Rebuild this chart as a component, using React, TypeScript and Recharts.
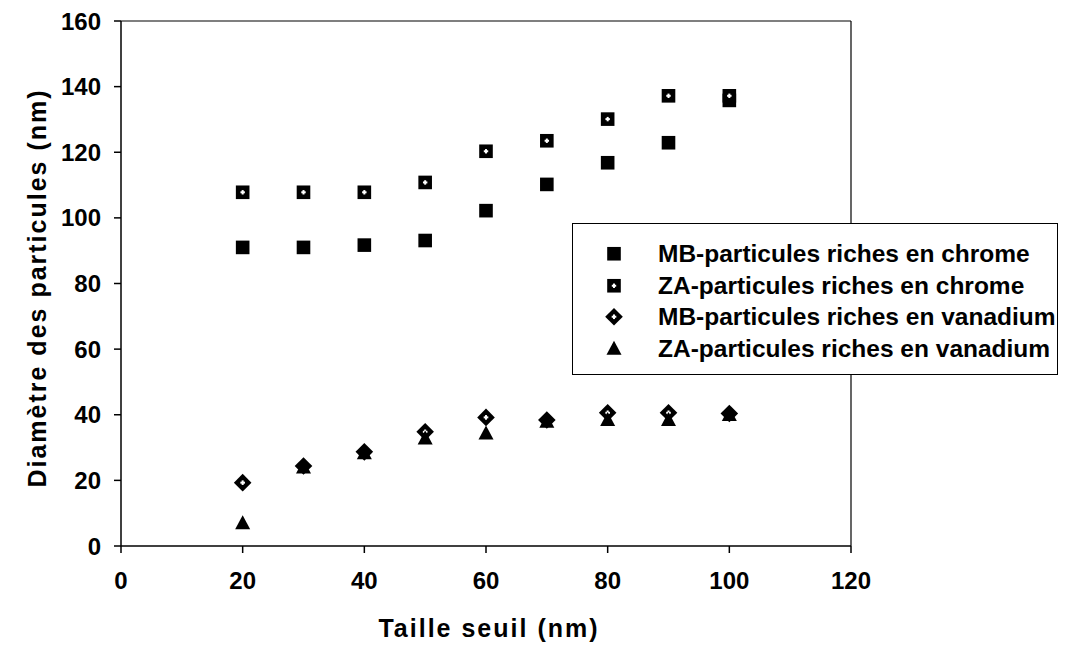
import React from 'react';
import { ScatterChart, Scatter, XAxis, YAxis, Legend, ReferenceLine, Label } from 'recharts';

const seuils = [20, 30, 40, 50, 60, 70, 80, 90, 100];
const mbChrome = [91.0, 91.0, 91.7, 93.1, 102.2, 110.2, 116.8, 122.9, 135.8];
const zaChrome = [107.8, 107.8, 107.8, 110.8, 120.3, 123.5, 130.1, 137.2, 137.2];
const mbVanadium = [19.3, 24.4, 28.7, 34.8, 39.2, 38.4, 40.6, 40.6, 40.4];
const zaVanadium = [6.9, 23.9, 28.3, 32.8, 34.3, 37.9, 38.4, 38.4, 39.9];

const xTicks = [0, 20, 40, 60, 80, 100, 120];
const yTicks = [0, 20, 40, 60, 80, 100, 120, 140, 160];

const seriesNames = [
  'MB-particules riches en chrome',
  'ZA-particules riches en chrome',
  'MB-particules riches en vanadium',
  'ZA-particules riches en vanadium',
];

const toPoints = (ys: number[]) => seuils.map((x, i) => ({ x, y: ys[i] }));

const FONT = '"Liberation Sans", Arial, Helvetica, sans-serif';

const SquareSolid = (props: any) => {
  const { cx, cy } = props;
  if (cx == null || cy == null) return null;
  return <rect x={cx - 6.8} y={cy - 6.8} width={13.6} height={13.6} fill="#000" />;
};

const SquareDot = (props: any) => {
  const { cx, cy } = props;
  if (cx == null || cy == null) return null;
  return (
    <g>
      <rect x={cx - 6.8} y={cy - 6.8} width={13.6} height={13.6} fill="#000" />
      <rect x={cx - 2.2} y={cy - 1} width={4.4} height={2} fill="#fff" />
      <rect x={cx - 1} y={cy - 2.2} width={2} height={4.4} fill="#fff" />
    </g>
  );
};

const DiamondDot = (props: any) => {
  const { cx, cy } = props;
  if (cx == null || cy == null) return null;
  const r = 8.8;
  return (
    <g>
      <polygon points={`${cx},${cy - r} ${cx + r},${cy} ${cx},${cy + r} ${cx - r},${cy}`} fill="#000" />
      <rect x={cx - 2.3} y={cy - 1} width={4.6} height={2} fill="#fff" />
      <rect x={cx - 1} y={cy - 2.3} width={2} height={4.6} fill="#fff" />
    </g>
  );
};

const Triangle = (props: any) => {
  const { cx, cy } = props;
  if (cx == null || cy == null) return null;
  return (
    <polygon points={`${cx},${cy - 8} ${cx + 7.5},${cy + 6} ${cx - 7.5},${cy + 6}`} fill="#000" />
  );
};

const legendShapes = [SquareSolid, SquareDot, DiamondDot, Triangle];

const LegendBox = () => (
  <div
    style={{
      width: 486,
      height: 152,
      boxSizing: 'border-box',
      border: '1.5px solid #000',
      background: '#fff',
      paddingTop: 14,
      fontFamily: FONT,
      fontWeight: 'bold',
      fontSize: 24.5,
      color: '#000',
    }}
  >
    {seriesNames.map((name, i) => {
      const Shape = legendShapes[i];
      return (
        <div key={name} style={{ height: 31.5, display: 'flex', alignItems: 'center', whiteSpace: 'nowrap' }}>
          <svg width={85} height={31.5} style={{ flex: '0 0 auto' }}>
            <Shape cx={41} cy={15.75} />
          </svg>
          <span style={{ lineHeight: '31.5px' }}>{name}</span>
        </div>
      );
    })}
  </div>
);

const XTitle = (props: any) => {
  const vb = props.viewBox || {};
  return (
    <text
      x={vb.x + vb.width / 2 + 3}
      y={vb.y + 91}
      textAnchor="middle"
      fontFamily={FONT}
      fontWeight="bold"
      fontSize={25}
      letterSpacing={2}
      fill="#000"
    >
      Taille seuil (nm)
    </text>
  );
};

const YTitle = (props: any) => {
  const vb = props.viewBox || {};
  const x = vb.x - 13;
  const y = vb.y + vb.height / 2 + 4.5;
  return (
    <text
      x={x}
      y={y}
      transform={`rotate(-90, ${x}, ${y})`}
      textAnchor="middle"
      dominantBaseline="hanging"
      fontFamily={FONT}
      fontWeight="bold"
      fontSize={25}
      letterSpacing={2}
      fill="#000"
    >
      Diamètre des particules (nm)
    </text>
  );
};

const tickStyle = { fontFamily: FONT, fontWeight: 'bold' as const, fontSize: 24, fill: '#000' };

export default function App() {
  return (
    <div style={{ width: 1059, height: 638, background: '#fff' }}>
      <ScatterChart width={1059} height={638} margin={{ top: 13, right: 216, bottom: 40, left: 33 }}>
        <XAxis
          type="number"
          dataKey="x"
          domain={[0, 120]}
          ticks={xTicks}
          interval={0}
          height={60}
          tickSize={7}
          tickMargin={19}
          axisLine={{ stroke: '#000', strokeWidth: 1.5 }}
          tickLine={{ stroke: '#000', strokeWidth: 1.5 }}
          tick={tickStyle}
          allowDataOverflow
        >
          <Label content={<XTitle />} />
        </XAxis>
        <YAxis
          type="number"
          dataKey="y"
          domain={[0, 160]}
          ticks={yTicks}
          interval={0}
          width={80}
          tickSize={7}
          tickMargin={13}
          axisLine={{ stroke: '#000', strokeWidth: 1.5 }}
          tickLine={{ stroke: '#000', strokeWidth: 1.5 }}
          tick={tickStyle}
          allowDataOverflow
        >
          <Label content={<YTitle />} />
        </YAxis>
        <ReferenceLine y={160} stroke="#000" strokeWidth={1.2} ifOverflow="extendDomain" />
        <ReferenceLine x={120} stroke="#000" strokeWidth={1.2} ifOverflow="extendDomain" />
        <Scatter name={seriesNames[0]} data={toPoints(mbChrome)} shape={<SquareSolid />} isAnimationActive={false} />
        <Scatter name={seriesNames[1]} data={toPoints(zaChrome)} shape={<SquareDot />} isAnimationActive={false} />
        <Scatter name={seriesNames[2]} data={toPoints(mbVanadium)} shape={<DiamondDot />} isAnimationActive={false} />
        <Scatter name={seriesNames[3]} data={toPoints(zaVanadium)} shape={<Triangle />} isAnimationActive={false} />
        <Legend
          verticalAlign="middle"
          align="center"
          content={<LegendBox />}
          wrapperStyle={{ position: 'absolute', left: 564, top: 215, width: 486, height: 152, margin: 0, padding: 0 }}
        />
      </ScatterChart>
    </div>
  );
}
